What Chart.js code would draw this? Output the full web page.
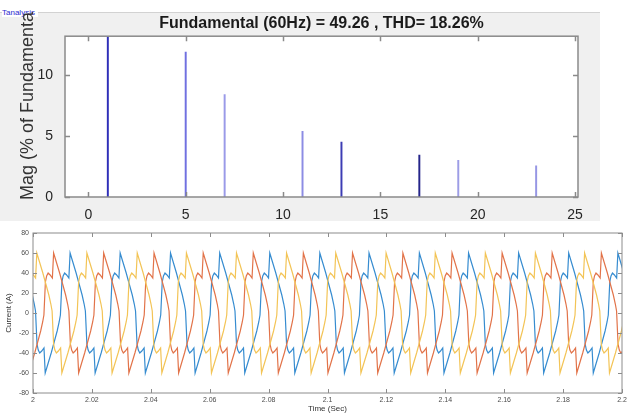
<!DOCTYPE html>
<html>
<head>
<meta charset="UTF-8">
<title>FFT et courants de charge</title>
<script src="https://cdn.jsdelivr.net/npm/chart.js"></script>
<style>
  body { margin: 0; width: 632px; height: 414px; background: #fff; position: relative; overflow: hidden; font-family: "Liberation Sans", Arial, sans-serif; }
  #panneau { position: absolute; left: 0; top: 12px; width: 600px; height: 208px; background: #f0f0f0; border-top: 1px solid #d2d2d2; }
  #titrePanneau { position: absolute; left: 2px; top: 8px; font-size: 8px; line-height: 9px; color: #2b2bcf; background: #fff; padding-right: 3px; }
  #fft { position: absolute; left: 0; top: 12px; }
  #courants { position: absolute; left: 0; top: 222px; }
</style>
</head>
<body>
<div id="panneau"></div>
<div id="titrePanneau">Tanalysis</div>
<canvas id="fft" width="600" height="210"></canvas>
<canvas id="courants" width="632" height="192"></canvas>

<script>
// --- spectre FFT (harmoniques en % du fondamental)
const harmoniques = [1, 5, 7, 11, 13, 17, 19, 23];
const magnitudes = [100, 11.9, 8.4, 5.4, 4.5, 3.45, 3.0, 2.55];
const couleursBarres = ["#2e2eb8", "#7070e0", "#9a9ae8", "#8c8ce4", "#3c3cb4", "#25258a", "#9d9de6", "#9696e4"];

// --- courants triphasés : une période (fraction de période, ampères)
const cycleFrac = [0, 0.06, 0.12, 0.18, 0.24, 0.28, 0.305, 0.335, 0.36, 0.39, 0.43, 0.475, 0.5,
                   0.56, 0.62, 0.68, 0.74, 0.78, 0.805, 0.835, 0.86, 0.89, 0.93, 0.975];
const cycleVal = [60, 50, 40, 29, 18, 9, 2, -31, -37, -40, -38, -35, -60,
                  -50, -40, -29, -18, -9, -2, 31, 37, 40, 38, 35];
const periode = 0.0169;
// instants des pics à +60 A pour chaque phase
const picsBleu = [1.9957, 2.0126, 2.0296, 2.0467, 2.0634, 2.0804, 2.0974, 2.1141, 2.1312, 2.1479, 2.1649, 2.1819, 2.1986, 2.2155];
const picsRouge = [1.9901, 2.0070, 2.0240, 2.0411, 2.0578, 2.0748, 2.0918, 2.1085, 2.1256, 2.1423, 2.1593, 2.1763, 2.1930, 2.2099];
const picsJaune = [1.9844, 2.0013, 2.0183, 2.0354, 2.0521, 2.0691, 2.0861, 2.1028, 2.1199, 2.1366, 2.1536, 2.1706, 2.1873, 2.2042];

function construireCourbe(pics) {
    const pts = [];
    pics.forEach((p, k) => {
        const duree = k < pics.length - 1 ? pics[k + 1] - p : periode;
        cycleFrac.forEach((f, i) => pts.push({ x: p + f * duree, y: cycleVal[i] }));
    });
    return pts;
}

// cadre style MATLAB : fond, bordure et graduations vers l'intérieur
const cadreAxes = {
    id: "cadreAxes",
    beforeDraw(chart, args, o) {
        const { ctx, chartArea: a } = chart;
        ctx.save();
        ctx.fillStyle = o.fond;
        ctx.fillRect(a.left, a.top, a.width, a.height);
        ctx.restore();
    },
    afterDraw(chart, args, o) {
        const { ctx, chartArea: a, scales } = chart;
        ctx.save();
        ctx.strokeStyle = o.couleur;
        ctx.lineWidth = o.epaisseur;
        ctx.beginPath();
        scales.x.ticks.forEach(t => {
            const px = Math.round(scales.x.getPixelForValue(t.value)) + 0.5;
            ctx.moveTo(px, a.bottom); ctx.lineTo(px, a.bottom - o.graduation);
            ctx.moveTo(px, a.top); ctx.lineTo(px, a.top + o.graduation);
        });
        scales.y.ticks.forEach(t => {
            const py = Math.round(scales.y.getPixelForValue(t.value)) + 0.5;
            ctx.moveTo(a.left, py); ctx.lineTo(a.left + o.graduation, py);
            ctx.moveTo(a.right, py); ctx.lineTo(a.right - o.graduation, py);
        });
        ctx.stroke();
        ctx.strokeRect(a.left, a.top, a.width, a.height);
        if (o.titreY) {
            ctx.translate(o.titreYx, o.titreYbas);
            ctx.rotate(-Math.PI / 2);
            ctx.font = o.titreYpolice;
            ctx.fillStyle = "#333333";
            ctx.textAlign = "left";
            ctx.textBaseline = "middle";
            ctx.fillText(o.titreY, 0, 0);
        }
        ctx.restore();
    }
};

new Chart(document.getElementById("fft"), {
    type: "bar",
    data: {
        datasets: [{
            data: harmoniques.map((h, i) => ({ x: h, y: magnitudes[i] })),
            backgroundColor: couleursBarres,
            barThickness: 1.3
        }]
    },
    options: {
        responsive: false,
        animation: false,
        layout: { padding: { left: 0, right: 22, top: 0, bottom: 0 } },
        plugins: {
            legend: { display: false },
            tooltip: { enabled: false },
            title: {
                display: true,
                fullSize: false,
                text: "Fundamental (60Hz) = 49.26 , THD= 18.26%",
                color: "#1a1a1a",
                font: { family: '"Liberation Sans Narrow", "Arial Narrow", "Liberation Sans", sans-serif', size: 16, weight: "bold" },
                padding: { top: 2, bottom: 3 }
            },
            cadreAxes: {
                fond: "#ffffff", couleur: "#8a8a8a", epaisseur: 1.5, graduation: 5,
                titreY: "Mag (% of Fundamental)", titreYx: 28, titreYbas: 188,
                titreYpolice: '18px "Liberation Sans", Arial, sans-serif'
            }
        },
        scales: {
            x: {
                type: "linear", min: -1.2, max: 25.15, offset: false,
                grid: { display: false, drawTicks: false }, border: { display: false },
                ticks: { stepSize: 5, includeBounds: false, padding: 10, color: "#262626", font: { size: 14, family: '"Liberation Sans", Arial, sans-serif' } },
                afterFit: s => { s.height = 25; }
            },
            y: {
                min: 0, max: 13.2,
                grid: { display: false, drawTicks: false }, border: { display: false },
                ticks: { stepSize: 5, includeBounds: false, padding: 12, color: "#262626", font: { size: 14, family: '"Liberation Sans", Arial, sans-serif' } },
                afterFit: s => { s.width = 65; }
            }
        }
    },
    plugins: [cadreAxes]
});

new Chart(document.getElementById("courants"), {
    type: "line",
    data: {
        datasets: [
            { label: "Ic", data: construireCourbe(picsJaune), borderColor: "#f3c456" },
            { label: "Ib", data: construireCourbe(picsRouge), borderColor: "#e27349" },
            { label: "Ia", data: construireCourbe(picsBleu), borderColor: "#368cd0" }
        ]
    },
    options: {
        responsive: false,
        animation: false,
        parsing: false,
        elements: { point: { radius: 0 }, line: { borderWidth: 1.2, tension: 0 } },
        layout: { padding: { left: 0, right: 10, top: 11, bottom: 0 } },
        plugins: {
            legend: { display: false },
            tooltip: { enabled: false },
            cadreAxes: { fond: "#ffffff", couleur: "#8c8c8c", epaisseur: 1, graduation: 4 }
        },
        scales: {
            x: {
                type: "linear", min: 2, max: 2.2,
                grid: { display: false, drawTicks: false }, border: { display: false },
                ticks: { stepSize: 0.02, padding: 3, color: "#4d4d4d", font: { size: 7 }, callback: v => String(+v.toFixed(2)) },
                title: { display: true, text: "Time (Sec)", color: "#333", font: { size: 8 }, padding: { top: 0, bottom: 0 } },
                afterFit: s => { s.height = 21; }
            },
            y: {
                min: -80, max: 80,
                grid: { display: false, drawTicks: false }, border: { display: false },
                ticks: { stepSize: 20, padding: 4, color: "#4d4d4d", font: { size: 7 } },
                title: { display: true, text: "Current (A)", color: "#333", font: { size: 8 }, padding: { top: 4, bottom: 2 } },
                afterFit: s => { s.width = 33; }
            }
        }
    },
    plugins: [cadreAxes]
});
</script>
</body>
</html>
